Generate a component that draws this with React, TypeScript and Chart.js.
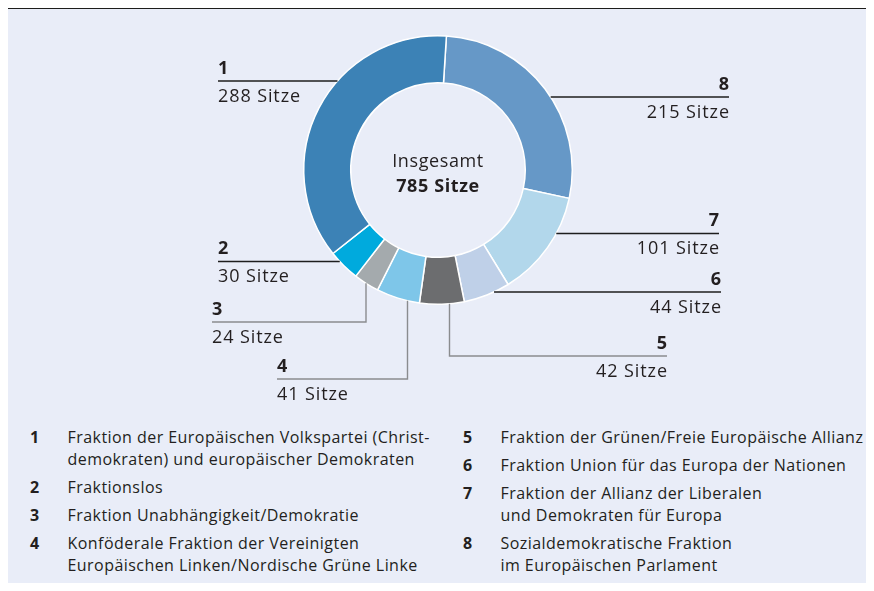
import React, { useEffect, useRef } from 'react';
import { Chart, registerables } from 'chart.js';

Chart.register(...registerables);

// ---- data ----
const groupNumbers = ['1', '2', '3', '4', '5', '6', '7', '8'];
const seats = [288, 30, 24, 41, 42, 44, 101, 215];
const groupNames = [
  'Fraktion der Europäischen Volkspartei (Christ-\ndemokraten) und europäischer Demokraten',
  'Fraktionslos',
  'Fraktion Unabhängigkeit/Demokratie',
  'Konföderale Fraktion der Vereinigten\nEuropäischen Linken/Nordische Grüne Linke',
  'Fraktion der Grünen/Freie Europäische Allianz',
  'Fraktion Union für das Europa der Nationen',
  'Fraktion der Allianz der Liberalen\nund Demokraten für Europa',
  'Sozialdemokratische Fraktion\nim Europäischen Parlament',
];
const valueSuffix = 'Sitze';
const totalLabel = 'Insgesamt';

// ---- styles ----
const segmentColors = ['#3c82b6', '#00aadd', '#a4aaad', '#7ec6e9', '#6c6d6f', '#bfd0e8', '#b2d7eb', '#6698c7'];
const INK = '#231f20';
const LINE_DARK = '#1e1e1e';
const LINE_GRAY = '#8a8c8f';
const FONT = "'Open Sans', sans-serif";

// callout layout (page coordinates) per group in order 1..8
type Callout =
  | { kind: 'h'; side: 'left' | 'right'; lineY: number; endX: number; color: string }
  | { kind: 'v'; side: 'left' | 'right'; lineX: number; elbowY: number; endX: number; color: string };
const callouts: Callout[] = [
  { kind: 'h', side: 'left', lineY: 81, endX: 218, color: LINE_DARK },
  { kind: 'h', side: 'left', lineY: 261.5, endX: 218, color: LINE_DARK },
  { kind: 'v', side: 'left', lineX: 366, elbowY: 322, endX: 212, color: LINE_GRAY },
  { kind: 'v', side: 'left', lineX: 407.5, elbowY: 379, endX: 277, color: LINE_GRAY },
  { kind: 'v', side: 'right', lineX: 449.5, elbowY: 356, endX: 667, color: LINE_GRAY },
  { kind: 'h', side: 'right', lineY: 292, endX: 721, color: LINE_DARK },
  { kind: 'h', side: 'right', lineY: 233.5, endX: 719, color: LINE_DARK },
  { kind: 'h', side: 'right', lineY: 97, endX: 729, color: LINE_DARK },
];

// drawing order: clockwise from top starting with group 8
const drawOrder = [7, 6, 5, 4, 3, 2, 1, 0];

const calloutPlugin = {
  id: 'callouts',
  afterDraw(chart: any) {
    const ctx = chart.ctx as CanvasRenderingContext2D;
    const meta = chart.getDatasetMeta(0);
    const arc = meta.data[0];
    if (!arc) return;
    const { x: cx, y: cy, outerRadius: R } = arc.getProps(['x', 'y', 'outerRadius'], true);
    const total = seats.reduce((a, b) => a + b, 0);
    ctx.save();
    (ctx as any).letterSpacing = '0.6px';
    // center text
    ctx.fillStyle = INK;
    ctx.textAlign = 'center';
    ctx.textBaseline = 'alphabetic';
    ctx.font = `18px ${FONT}`;
    ctx.fillText(totalLabel, cx, cy - 3.5);
    ctx.font = `bold 18px ${FONT}`;
    ctx.fillText(`${total} ${valueSuffix}`, cx, cy + 21.5);

    (ctx as any).letterSpacing = '0.9px';
    callouts.forEach((c, i) => {
      ctx.strokeStyle = c.color;
      ctx.lineWidth = 1.4;
      ctx.beginPath();
      let lineY: number;
      if (c.kind === 'h') {
        const dy = c.lineY - cy;
        const dx = Math.sqrt(Math.max(R * R - dy * dy, 0));
        const ax = c.side === 'left' ? cx - dx : cx + dx;
        ctx.moveTo(ax, c.lineY);
        ctx.lineTo(c.endX, c.lineY);
        lineY = c.lineY;
      } else {
        const dx = c.lineX - cx;
        const dy = Math.sqrt(Math.max(R * R - dx * dx, 0));
        ctx.moveTo(c.lineX, cy + dy);
        ctx.lineTo(c.lineX, c.elbowY);
        ctx.lineTo(c.endX, c.elbowY);
        lineY = c.elbowY;
      }
      ctx.stroke();
      ctx.fillStyle = INK;
      const right = c.side === 'right';
      ctx.textAlign = right ? 'right' : 'left';
      // compensate trailing letter spacing on right-aligned text
      const tx = right ? c.endX + 0.9 : c.endX;
      ctx.font = `bold 18px ${FONT}`;
      ctx.fillText(groupNumbers[i], tx, lineY - 7.5);
      ctx.font = `18px ${FONT}`;
      ctx.fillText(`${seats[i]} ${valueSuffix}`, tx, lineY + 20.5);
    });
    ctx.restore();
  },
};

function LegendColumn({ indices, left }: { indices: number[]; left: number }) {
  return (
    <div style={{ position: 'absolute', left, top: 425.5 }}>
      {indices.map((i) => (
        <div key={i} style={{ display: 'flex', marginBottom: 6, lineHeight: '22px' }}>
          <div style={{ width: 37.5, fontWeight: 700 }}>{groupNumbers[i]}</div>
          <div style={{ whiteSpace: 'pre-line', letterSpacing: '0.45px' }}>{groupNames[i]}</div>
        </div>
      ))}
    </div>
  );
}

export default function App() {
  const canvasRef = useRef<HTMLCanvasElement | null>(null);

  useEffect(() => {
    const canvas = canvasRef.current;
    if (!canvas) return;
    const chart = new Chart(canvas, {
      type: 'doughnut',
      data: {
        labels: drawOrder.map((i) => groupNumbers[i]),
        datasets: [
          {
            data: drawOrder.map((i) => seats[i]),
            backgroundColor: drawOrder.map((i) => segmentColors[i]),
            borderColor: '#ffffff',
            borderWidth: 1.5,
            hoverOffset: 0,
          },
        ],
      },
      options: {
        responsive: false,
        maintainAspectRatio: false,
        animation: false,
        rotation: 3.6,
        cutout: '65%',
        layout: { padding: { left: 303, right: 301, top: 35, bottom: 115 } },
        plugins: { legend: { display: false }, tooltip: { enabled: false } },
        events: [],
      },
      plugins: [calloutPlugin],
    });
    return () => chart.destroy();
  }, []);

  return (
    <div style={{ position: 'relative', width: 874, height: 591, margin: -8, background: '#ffffff', overflow: 'hidden', fontFamily: FONT, color: INK, fontSize: 16 }}>
      <div style={{ position: 'absolute', left: 7, top: 8, width: 867, height: 582, background: '#e9edf8', borderTop: '1.5px solid #1d1d1b', boxSizing: 'border-box' }} />
      <canvas ref={canvasRef} width={874} height={420} style={{ position: 'absolute', left: 0, top: 0, width: 874, height: 420 }} />
      <LegendColumn indices={[0, 1, 2, 3]} left={30} />
      <LegendColumn indices={[4, 5, 6, 7]} left={463} />
    </div>
  );
}
